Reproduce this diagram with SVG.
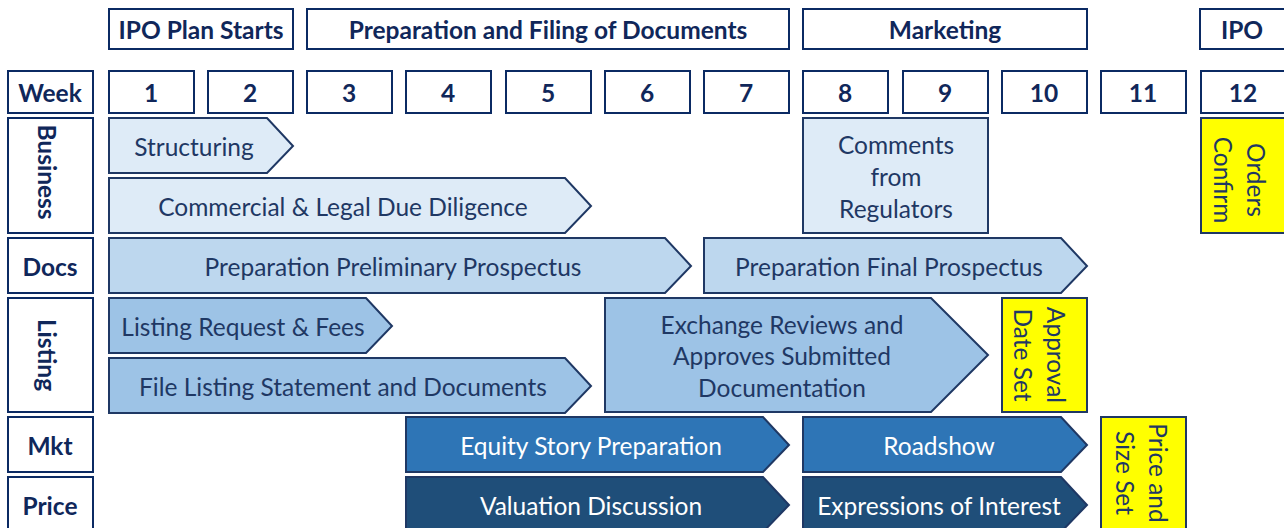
<svg xmlns="http://www.w3.org/2000/svg" width="1284" height="528" viewBox="0 0 1284 528">
  <style>
    .box { fill: #ffffff; stroke: #0b2a63; stroke-width: 2; }
    .hdr { font-family: Lato, "Liberation Sans", sans-serif; font-weight: bold; font-size: 24.5px; fill: #10275a; text-anchor: middle; dominant-baseline: central; }
    .lbl { font-family: Lato, "Liberation Sans", sans-serif; font-size: 24.5px; fill: #1f3864; text-anchor: middle; dominant-baseline: central; }
    .wt { fill: #ffffff; }
    .c1 { fill: #deebf7; stroke: #1f3864; stroke-width: 2; }
    .c2 { fill: #bdd7ee; stroke: #1f3864; stroke-width: 2; }
    .c3 { fill: #9dc3e6; stroke: #1f3864; stroke-width: 2; }
    .c4 { fill: #2e75b6; stroke: #1f3864; stroke-width: 2; }
    .c5 { fill: #1f4e79; stroke: #1f3864; stroke-width: 2; }
    .yel { fill: #ffff00; stroke: #1f3864; stroke-width: 2; }
  </style>

  <!-- Phase headers -->
  <g id="phase-ipo-plan"><rect class="box" x="109" y="9" width="184" height="40"/><text class="hdr" x="201" y="29">IPO Plan Starts</text></g>
  <g id="phase-prep"><rect class="box" x="307" y="9" width="482" height="40"/><text class="hdr" x="548" y="29">Preparation and Filing of Documents</text></g>
  <g id="phase-marketing"><rect class="box" x="803" y="9" width="284" height="40"/><text class="hdr" x="945" y="29">Marketing</text></g>
  <g id="phase-ipo"><rect class="box" x="1200" y="9" width="90" height="40"/><text class="hdr" x="1242" y="29">IPO</text></g>

  <!-- Week row -->
  <g id="week-label"><rect class="box" x="8" y="71" width="85" height="42"/><text class="hdr" x="50" y="92">Week</text></g>
  <g id="week-1"><rect class="box" x="109" y="71" width="85" height="42"/><text class="hdr" x="151" y="92">1</text></g>
  <g id="week-2"><rect class="box" x="208" y="71" width="85" height="42"/><text class="hdr" x="250" y="92">2</text></g>
  <g id="week-3"><rect class="box" x="307" y="71" width="85" height="42"/><text class="hdr" x="349" y="92">3</text></g>
  <g id="week-4"><rect class="box" x="406" y="71" width="85" height="42"/><text class="hdr" x="448" y="92">4</text></g>
  <g id="week-5"><rect class="box" x="506" y="71" width="85" height="42"/><text class="hdr" x="548" y="92">5</text></g>
  <g id="week-6"><rect class="box" x="605" y="71" width="85" height="42"/><text class="hdr" x="647" y="92">6</text></g>
  <g id="week-7"><rect class="box" x="704" y="71" width="85" height="42"/><text class="hdr" x="746" y="92">7</text></g>
  <g id="week-8"><rect class="box" x="803" y="71" width="85" height="42"/><text class="hdr" x="845" y="92">8</text></g>
  <g id="week-9"><rect class="box" x="903" y="71" width="85" height="42"/><text class="hdr" x="945" y="92">9</text></g>
  <g id="week-10"><rect class="box" x="1002" y="71" width="85" height="42"/><text class="hdr" x="1044" y="92">10</text></g>
  <g id="week-11"><rect class="box" x="1101" y="71" width="85" height="42"/><text class="hdr" x="1143" y="92">11</text></g>
  <g id="week-12"><rect class="box" x="1201" y="71" width="90" height="42"/><text class="hdr" x="1243" y="92">12</text></g>

  <!-- Row labels -->
  <g id="row-business"><rect class="box" x="8" y="118" width="85" height="115"/><text class="hdr" x="47" y="172" transform="rotate(90 47 172)">Business</text></g>
  <g id="row-docs"><rect class="box" x="8" y="238" width="85" height="55"/><text class="hdr" x="50" y="266">Docs</text></g>
  <g id="row-listing"><rect class="box" x="8" y="298" width="85" height="114"/><text class="hdr" x="47" y="355" transform="rotate(90 47 355)">Listing</text></g>
  <g id="row-mkt"><rect class="box" x="8" y="417" width="85" height="55"/><text class="hdr" x="50" y="445">Mkt</text></g>
  <g id="row-price"><rect class="box" x="8" y="477" width="85" height="60"/><text class="hdr" x="50" y="505">Price</text></g>

  <!-- Business tasks -->
  <g id="task-structuring"><polygon class="c1" points="109,118 267,118 293,146 267,173 109,173"/><text class="lbl" x="194" y="146">Structuring</text></g>
  <g id="task-due-diligence"><polygon class="c1" points="109,178 565,178 591,206 565,233 109,233"/><text class="lbl" x="343" y="206">Commercial &amp; Legal Due Diligence</text></g>
  <g id="task-comments"><rect class="c1" x="803" y="118" width="185" height="115"/>
    <text class="lbl" x="896" y="144">Comments</text>
    <text class="lbl" x="896" y="176">from</text>
    <text class="lbl" x="896" y="208">Regulators</text>
  </g>
  <g id="task-orders-confirm"><rect class="yel" x="1201" y="118" width="90" height="115"/>
    <text class="lbl" transform="translate(1241 180) rotate(90)"><tspan x="0" y="-16">Orders</tspan><tspan x="0" y="17">Confirm</tspan></text>
  </g>

  <!-- Docs tasks -->
  <g id="task-prelim-prospectus"><polygon class="c2" points="109,238 665,238 691,266 665,293 109,293"/><text class="lbl" x="393" y="266">Preparation Preliminary Prospectus</text></g>
  <g id="task-final-prospectus"><polygon class="c2" points="704,238 1061,238 1087,266 1061,293 704,293"/><text class="lbl" x="889" y="266">Preparation Final Prospectus</text></g>

  <!-- Listing tasks -->
  <g id="task-listing-request"><polygon class="c3" points="109,298 366,298 392,326 366,353 109,353"/><text class="lbl" x="243" y="326">Listing Request &amp; Fees</text></g>
  <g id="task-file-listing"><polygon class="c3" points="109,358 565,358 591,386 565,413 109,413"/><text class="lbl" x="343" y="386">File Listing Statement and Documents</text></g>
  <g id="task-exchange-review"><polygon class="c3" points="605,298 931,298 988,355 931,412 605,412"/>
    <text class="lbl" x="782" y="324">Exchange Reviews and</text>
    <text class="lbl" x="782" y="355">Approves Submitted</text>
    <text class="lbl" x="782" y="387">Documentation</text>
  </g>
  <g id="task-approval-date"><rect class="yel" x="1002" y="298" width="85" height="114"/>
    <text class="lbl" transform="translate(1041 355) rotate(90)"><tspan x="0" y="-16">Approval</tspan><tspan x="0" y="17">Date Set</tspan></text>
  </g>

  <!-- Marketing tasks -->
  <g id="task-equity-story"><polygon class="c4" points="406,417 763,417 789,445 763,472 406,472"/><text class="lbl wt" x="591" y="445">Equity Story Preparation</text></g>
  <g id="task-roadshow"><polygon class="c4" points="803,417 1061,417 1087,445 1061,472 803,472"/><text class="lbl wt" x="939" y="445">Roadshow</text></g>
  <g id="task-price-size"><rect class="yel" x="1101" y="417" width="85" height="120"/>
    <text class="lbl" transform="translate(1143 473) rotate(90)"><tspan x="0" y="-16">Price and</tspan><tspan x="0" y="17">Size Set</tspan></text>
  </g>

  <!-- Pricing tasks -->
  <g id="task-valuation"><polygon class="c5" points="406,477 763,477 789,505 763,532 406,532"/><text class="lbl wt" x="591" y="505">Valuation Discussion</text></g>
  <g id="task-interest"><polygon class="c5" points="803,477 1061,477 1087,505 1061,532 803,532"/><text class="lbl wt" x="939" y="505">Expressions of Interest</text></g>

  <!-- No connectors in this chart -->
  <g id="connectors"/>
</svg>
